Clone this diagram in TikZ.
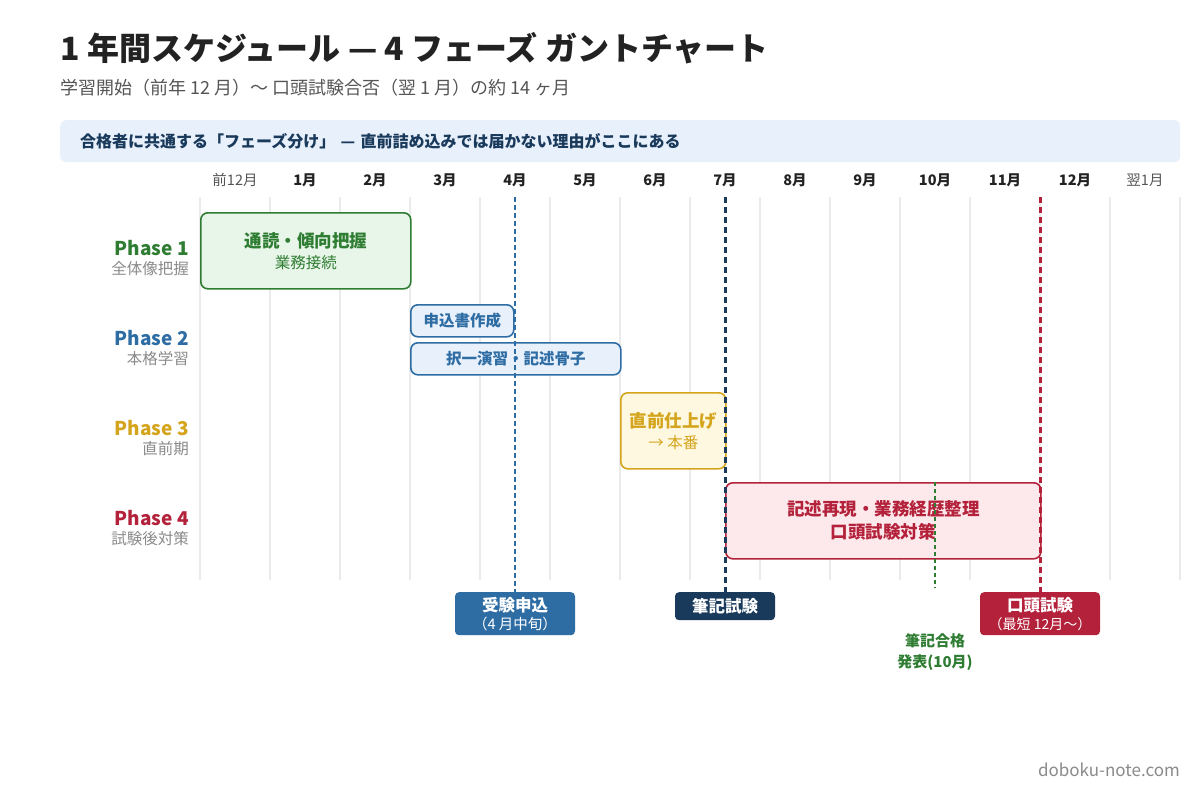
\documentclass[tikz,border=0pt]{standalone}
\usepackage{fontspec}
\setmainfont{Noto Sans CJK JP}
\usetikzlibrary{positioning}
\definecolor{inkdark}{HTML}{222222}
\definecolor{inkgray}{HTML}{555555}
\definecolor{inklight}{HTML}{8A8A8A}
\definecolor{gridgray}{HTML}{EBEBEB}
\definecolor{bannerbg}{HTML}{E8F0FB}
\definecolor{bannerink}{HTML}{1A3A5C}
\definecolor{pgreen}{HTML}{2E7D32}
\definecolor{pgreenbg}{HTML}{E8F5E9}
\definecolor{pblue}{HTML}{2E6DA4}
\definecolor{pbluebg}{HTML}{E8F0FB}
\definecolor{pgold}{HTML}{D4A51C}
\definecolor{pgoldbg}{HTML}{FFF8E1}
\definecolor{pred}{HTML}{B3213A}
\definecolor{predbg}{HTML}{FDE8EC}
\definecolor{pnavy}{HTML}{1A3A5C}
\begin{document}
\begin{tikzpicture}[x=1pt, y=-1pt, font=\fontsize{14}{17}\selectfont,
    bar/.style = {draw, rounded corners=7pt, line width=1.6pt, anchor=north west, align=center, inner sep=0pt},
    phase/.style = {anchor=east, inner sep=0pt, font=\bfseries\fontsize{19}{22}\selectfont},
    phasesub/.style = {inner sep=0pt, text=inklight, font=\fontsize{15.5}{18}\selectfont},
    month/.style = {font=\bfseries\fontsize{14.5}{17}\selectfont, text=inkdark},
    monthedge/.style = {font=\fontsize{14.5}{17}\selectfont, text=inkgray},
    gridline/.style = {draw=gridgray, line width=1.3pt},
    event/.style = {rounded corners=4pt, anchor=north, text=white, align=center, inner sep=0pt},
    milestone/.style = {line width=3pt, dash pattern=on 6pt off 4pt}]
  \useasboundingbox[fill=white] (0,0) rectangle (1200,800);

  % title
  \node[anchor=base west, inner sep=0pt, text=inkdark, font=\bfseries\fontsize{32}{36}\selectfont] (title) at (60,60) {1 年間スケジュール — 4 フェーズ ガントチャート};
  \node[anchor=base west, inner sep=0pt, text=inkgray, font=\fontsize{18}{21}\selectfont] (subtitle) at (60,95) {学習開始（前年 12 月）〜 口頭試験合否（翌 1 月）の約 14 ヶ月};
  \node[anchor=north west, fill=bannerbg, rounded corners=6pt, minimum height=42pt, text width=1080pt, inner xsep=20pt, align=left, text=bannerink, font=\bfseries\fontsize{16}{19}\selectfont] (lead) at (60,120) {合格者に共通する「フェーズ分け」 — 直前詰め込みでは届かない理由がここにある};

  % grid and months
  \foreach \i in {0,...,14}
    \draw[gridline] (200+70*\i,197) -- (200+70*\i,580);
  \node[monthedge] (m0) at (235,180) {前12月};
  \foreach \m [count=\i] in {1月,2月,3月,4月,5月,6月,7月,8月,9月,10月,11月,12月}
    \node[month] (m\i) at (235+70*\i,180) {\m};
  \node[monthedge] (m13) at (1145,180) {翌1月};

  % phase labels
  \node[phase, text=pgreen] (ph1) at (189,248) {Phase 1};
  \node[phasesub, below=5pt of ph1.south east, anchor=north east] (ph1sub) {全体像把握};
  \node[phase, text=pblue] (ph2) at (189,338) {Phase 2};
  \node[phasesub, below=5pt of ph2.south east, anchor=north east] (ph2sub) {本格学習};
  \node[phase, text=pgold] (ph3) at (189,428) {Phase 3};
  \node[phasesub, below=5pt of ph3.south east, anchor=north east] (ph3sub) {直前期};
  \node[phase, text=pred] (ph4) at (189,518) {Phase 4};
  \node[phasesub, below=5pt of ph4.south east, anchor=north east] (ph4sub) {試験後対策};

  % milestone line ends
  \coordinate (apply top) at (515,197);
  \coordinate (written top) at (725,197);
  \coordinate (oral top) at (1040,197);
  \coordinate (pass top) at (935,482);
  \coordinate (pass end) at (935,588);

  % bars
  \node[bar, draw=pgreen, fill=pgreenbg, text=pgreen, minimum width=210pt, minimum height=76pt] (read) at (200,212)
    {{\bfseries\fontsize{17.5}{21}\selectfont 通読・傾向把握}\\[4pt]{\fontsize{15.5}{18}\selectfont 業務接続}};
  \node[bar, draw=pblue, fill=pbluebg, text=pblue, minimum width=103pt, minimum height=32pt, font=\bfseries\fontsize{15.5}{18}\selectfont] (form) at (410,304) {申込書作成};
  \node[bar, draw=pblue, fill=pbluebg, text=pblue, minimum width=210pt, minimum height=32pt, font=\bfseries\fontsize{15.5}{18}\selectfont] (drill) at (410,342) {択一演習・記述骨子};
  \node[bar, draw=pgold, fill=pgoldbg, text=pgold, minimum width=105pt, minimum height=76pt] (final) at (620,392)
    {{\bfseries\fontsize{17.5}{21}\selectfont 直前仕上げ}\\[4pt]{\fontsize{15.5}{18}\selectfont → 本番}};
  \node[bar, draw=pred, fill=predbg, text=pred, minimum width=315pt, minimum height=76pt, font=\bfseries\fontsize{17.5}{23}\selectfont] (review) at (725,482)
    {記述再現・業務経歴整理\\口頭試験対策};

  % events
  \node[event, fill=pblue, minimum width=120pt, minimum height=43pt] (apply) at (515,592)
    {{\bfseries\fontsize{16.5}{19}\selectfont 受験申込}\\[1pt]{\fontsize{14.5}{16}\selectfont （4 月中旬）}};
  \node[event, fill=pnavy, minimum width=100pt, minimum height=28pt, font=\bfseries\fontsize{16.5}{19}\selectfont] (written) at (725,592) {筆記試験};
  \node[event, fill=pred, minimum width=120pt, minimum height=43pt] (oral) at (1040,592)
    {{\bfseries\fontsize{16.5}{19}\selectfont 口頭試験}\\[1pt]{\fontsize{14}{16}\selectfont （最短 12月〜）}};
  \node[anchor=north, align=center, inner sep=0pt, text=pgreen, font=\bfseries\fontsize{15}{21}\selectfont] (pass) at (935,633) {筆記合格\\発表(10月)};

  \draw[milestone, draw=pblue, line width=2pt, dash pattern=on 5pt off 3pt] (apply top) -- (apply);
  \draw[milestone, draw=pnavy] (written top) -- (written);
  \draw[milestone, draw=pred] (oral top) -- (oral);
  \draw[milestone, draw=pgreen, line width=1.7pt, dash pattern=on 4pt off 3pt] (pass top) -- (pass end);

  % footer
  \node[anchor=base east, inner sep=0pt, text=inklight, font=\fontsize{17}{20}\selectfont] (site) at (1180,776) {doboku-note.com};
\end{tikzpicture}
\end{document}
